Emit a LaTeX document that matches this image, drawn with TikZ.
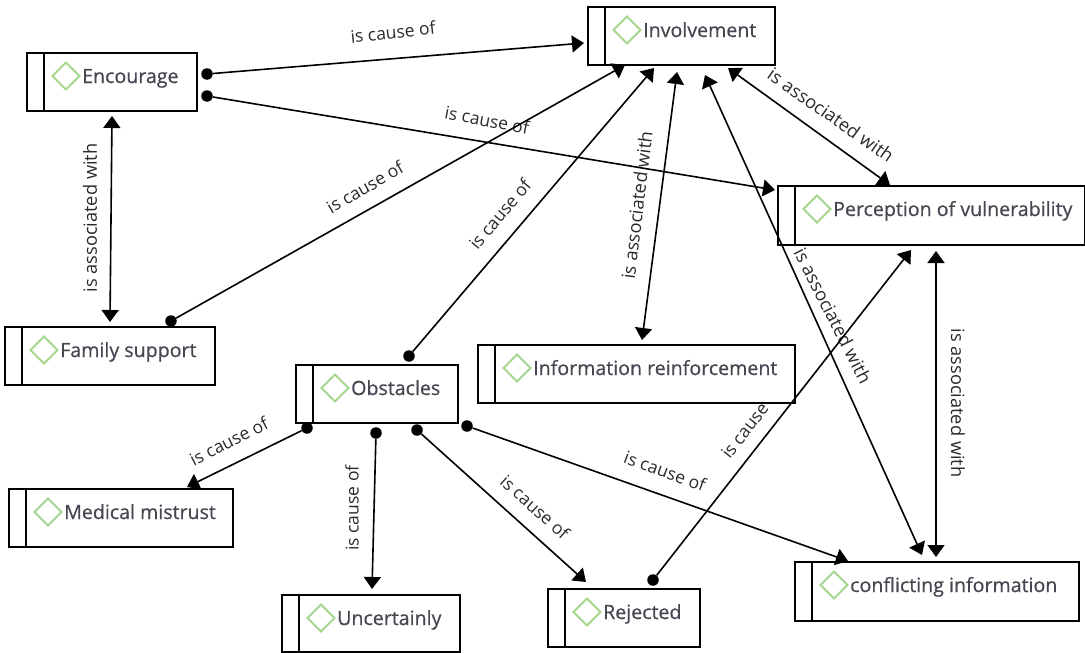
\documentclass[tikz,border=0pt]{standalone}
\usepackage{fontspec}
\setmainfont{Open Sans}
\newfontfamily\boxfont[FakeBold=0.6]{Open Sans}
\usetikzlibrary{arrows.meta}
\pgfdeclarelayer{lab}
\pgfdeclarelayer{conn}
\pgfsetlayers{lab,main,conn}
\definecolor{boxtext}{HTML}{454850}
\definecolor{dia}{HTML}{A6D68C}
\definecolor{labtext}{HTML}{2A2A2A}
\tikzset{
  conbox/.style={draw=black,line width=1.7pt,fill=white,inner sep=0pt,outer sep=0pt,rectangle},
  divider/.style={draw=black,line width=1.7pt},
  diamondmark/.style={draw=dia,line width=2pt,fill=white},
  boxlabel/.style={anchor=base west,inner sep=0pt,text=boxtext,font=\boxfont\fontsize{19.6}{24}\selectfont},
  causelabel/.style={inner sep=0pt,text=labtext,font=\fontsize{17.5}{20}\selectfont},
  assoclabel/.style={inner sep=0pt,text=labtext,font=\fontsize{18.2}{20}\selectfont},
  link/.style={draw=black,line width=1.6pt,-{Triangle[length=12pt,width=17pt]}},
  twoway/.style={draw=black,line width=1.6pt,{Triangle[length=12pt,width=17pt]}-{Triangle[length=12pt,width=17pt]}},
  enddot/.style={circle,fill=black,inner sep=0pt,minimum size=11.5pt},
}
% name, x1, y1, x2, y2, text
\newcommand{\conceptbox}[6]{%
  \node[conbox,anchor=north west,minimum width={(#4-#2)*1pt},minimum height={(#5-#3)*1pt}] (#1) at (#2,#3) {};
  \coordinate (#1-a) at ({#2+17},#3);
  \coordinate (#1-b) at ({#2+17},#5);
  \draw[divider] (#1-a) -- (#1-b);
  \coordinate (#1-dt) at ({#2+39},{#3+9.5});
  \coordinate (#1-dr) at ({#2+52.5},{#3+23});
  \coordinate (#1-db) at ({#2+39},{#3+36.5});
  \coordinate (#1-dl) at ({#2+25.5},{#3+23});
  \path[diamondmark] (#1-dt) -- (#1-dr) -- (#1-db) -- (#1-dl) -- cycle;
  \node[boxlabel] (#1-t) at ({#2+55},{#3+30}) {#6};
}
\begin{document}
\begin{tikzpicture}[x=1pt,y=-1pt]
\useasboundingbox (0,0) rectangle (1085,653);
\conceptbox{enc}{27}{53}{197}{111}{Encourage}
\conceptbox{inv}{588}{7}{775}{65}{Involvement}
\conceptbox{per}{778}{186}{1084.5}{245}{Perception of vulnerability}
\conceptbox{fam}{5}{327}{215}{385}{Family support}
\conceptbox{obs}{296}{365}{458}{423}{Obstacles}
\conceptbox{inf}{478}{345}{795}{403}{Information reinforcement}
\conceptbox{med}{9}{489}{233}{547}{Medical mistrust}
\conceptbox{unc}{282}{595}{460}{652}{Uncertainly}
\conceptbox{rej}{548}{589}{700}{647}{Rejected}
\conceptbox{con}{795}{562}{1079}{621}{conflicting information}
\begin{pgfonlayer}{lab}
\node[causelabel,rotate=6] (l1) at (393,32) {is cause of};
\node[causelabel,rotate=-11] (l2) at (487,120) {is cause of};
\node[assoclabel,rotate=90] (l3) at (90,218) {is associated with};
\node[causelabel,rotate=30] (l4) at (365,187) {is cause of};
\node[causelabel,rotate=50] (l5) at (500,214) {is cause of};
\node[assoclabel,rotate=83] (l6) at (637,205) {is associated with};
\node[assoclabel,rotate=-35] (l7) at (831,115) {is associated with};
\node[assoclabel,rotate=-63] (l8) at (833,316) {is associated with};
\node[causelabel,rotate=52] (l9) at (751,422) {is cause of};
\node[assoclabel,rotate=-90] (l10) at (958,403) {is associated with};
\node[causelabel,rotate=-20] (l11) at (665,471) {is cause of};
\node[causelabel,rotate=-42] (l12) at (535,507) {is cause of};
\node[causelabel,rotate=90] (l13) at (352,508) {is cause of};
\node[causelabel,rotate=27] (l14) at (229,441) {is cause of};
\end{pgfonlayer}
\begin{pgfonlayer}{conn}
\node[enddot] (d1) at (207,74) {};
\node[enddot] (d2) at (207,96) {};
\node[enddot] (d3) at (171,321) {};
\node[enddot] (d4) at (409,356) {};
\node[enddot] (d5) at (653,580) {};
\node[enddot] (d6) at (467,426) {};
\node[enddot] (d7) at (417,430) {};
\node[enddot] (d8) at (376,433) {};
\node[enddot] (d9) at (307,428) {};
\coordinate (t1) at (584,43);
\coordinate (t2) at (775,190);
\coordinate (t3) at (625,65);
\coordinate (t4) at (654,68);
\coordinate (t5) at (911,250);
\coordinate (t6) at (848,561);
\coordinate (t7) at (586,582);
\coordinate (t8) at (372,589);
\coordinate (t9) at (187,487);
\coordinate (a1) at (112,116);
\coordinate (a2) at (110,322);
\coordinate (b1) at (677,72);
\coordinate (b2) at (642,340);
\coordinate (c1) at (728,68);
\coordinate (c2) at (890,185);
\coordinate (e1) at (705,75);
\coordinate (e2) at (922,555);
\coordinate (f1) at (936,251);
\coordinate (f2) at (936,557);
\draw[link] (d1) -- (t1);
\draw[link] (d2) -- (t2);
\draw[link] (d3) -- (t3);
\draw[link] (d4) -- (t4);
\draw[link] (d5) -- (t5);
\draw[link] (d6) -- (t6);
\draw[link] (d7) -- (t7);
\draw[link] (d8) -- (t8);
\draw[link] (d9) -- (t9);
\draw[twoway] (a1) -- (a2);
\draw[twoway] (b1) -- (b2);
\draw[twoway] (c1) -- (c2);
\draw[twoway] (e1) -- (e2);
\draw[twoway] (f1) -- (f2);
\end{pgfonlayer}
\end{tikzpicture}
\end{document}
